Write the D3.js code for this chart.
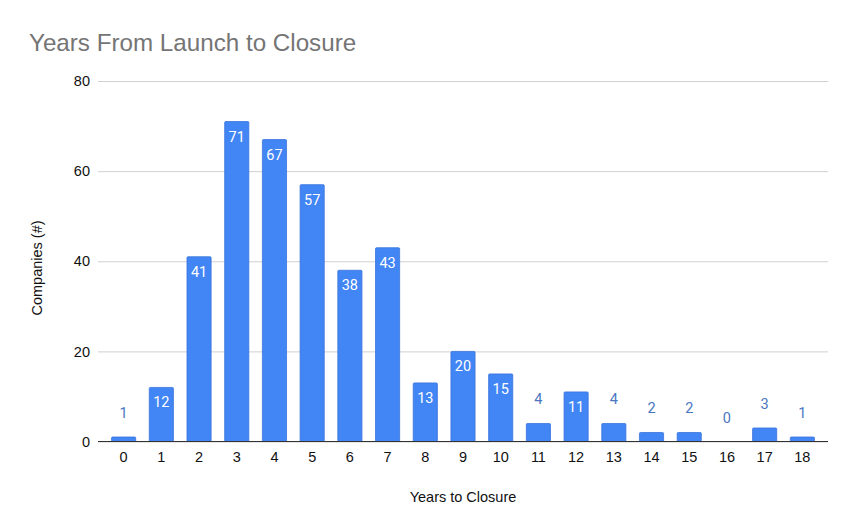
<!DOCTYPE html>
<html>
<head>
<meta charset="utf-8">
<script src="https://cdn.jsdelivr.net/npm/d3@7"></script>
<style>
  html, body { margin: 0; padding: 0; background: #fff; }
  svg { display: block; }
</style>
</head>
<body>
<svg id="chart" width="855" height="532"></svg>
<script>
const categories = ["0","1","2","3","4","5","6","7","8","9","10","11","12","13","14","15","16","17","18"];
const companies = [1, 12, 41, 71, 67, 57, 38, 43, 13, 20, 15, 4, 11, 4, 2, 2, 0, 3, 1];
const yTicks = [0, 20, 40, 60, 80];
const titleText = "Years From Launch to Closure";
const xTitle = "Years to Closure";
const yTitle = "Companies (#)";

(function () {
const svg = d3.select("#chart");
const plotLeft = 98, plotRight = 828, plotTop = 81, plotBottom = 441.5;

const x = d3.scaleBand().domain(categories).range([plotLeft, plotRight]).paddingInner(0.36).paddingOuter(0.36);
const y = d3.scaleLinear().domain([0, 80]).range([plotBottom, plotTop]);

const font = "Liberation Sans, Arial, sans-serif";

// title
svg.append("text").attr("x", 29).attr("y", 50.5)
  .attr("font-family", font).attr("font-size", 24.2).attr("fill", "#757575")
  .text(titleText);

// grid
const yAxis = d3.axisLeft(y).tickValues(yTicks).tickSize(-(plotRight - plotLeft)).tickPadding(8);
const gy = svg.append("g").attr("transform", `translate(${plotLeft},0)`).call(yAxis);
gy.select(".domain").remove();
gy.selectAll(".tick line").attr("stroke", "#d0d0d0").attr("stroke-width", 1);
gy.selectAll(".tick text").attr("font-family", font).attr("font-size", 14.5).attr("fill", "#111").attr("x", -8);

// bars
svg.append("g").selectAll("rect").data(companies).join("rect")
  .attr("x", (d, i) => x(categories[i]))
  .attr("width", x.bandwidth())
  .attr("y", d => y(d))
  .attr("height", d => plotBottom - y(d))
  .attr("fill", "#4285f4")
  .attr("stroke", "#3a74dc")
  .attr("stroke-width", 0.8)
  .attr("rx", 1);

// x axis
const xAxis = d3.axisBottom(x).tickSize(0).tickPadding(10);
const gx = svg.append("g").attr("transform", `translate(0,${plotBottom})`).call(xAxis);
gx.select(".domain").remove();
gx.selectAll(".tick text").attr("font-family", font).attr("font-size", 14.5).attr("fill", "#111");
svg.append("line").attr("x1", plotLeft).attr("x2", plotRight).attr("y1", plotBottom).attr("y2", plotBottom)
  .attr("stroke", "#333").attr("stroke-width", 1.2);

// data labels
svg.append("g").selectAll("text").data(companies).join("text")
  .attr("x", (d, i) => x(categories[i]) + x.bandwidth() / 2)
  .attr("y", d => (plotBottom - y(d) > 30) ? y(d) + 20 : y(d) - 19)
  .attr("text-anchor", "middle")
  .attr("font-family", "Roboto, Arial, sans-serif")
  .attr("font-size", 14.5)
  .attr("fill", d => (plotBottom - y(d) > 30) ? "#ffffff" : "#4a76c0")
  .text(d => d);

// axis titles
svg.append("text").attr("x", 463).attr("y", 501.5).attr("text-anchor", "middle")
  .attr("font-family", font).attr("font-size", 14.5).attr("fill", "#111").text(xTitle);
svg.append("text").attr("transform", "translate(41.5,268) rotate(-90)").attr("text-anchor", "middle")
  .attr("font-family", font).attr("font-size", 14.5).attr("fill", "#111").text(yTitle);
})();
</script>
</body>
</html>
